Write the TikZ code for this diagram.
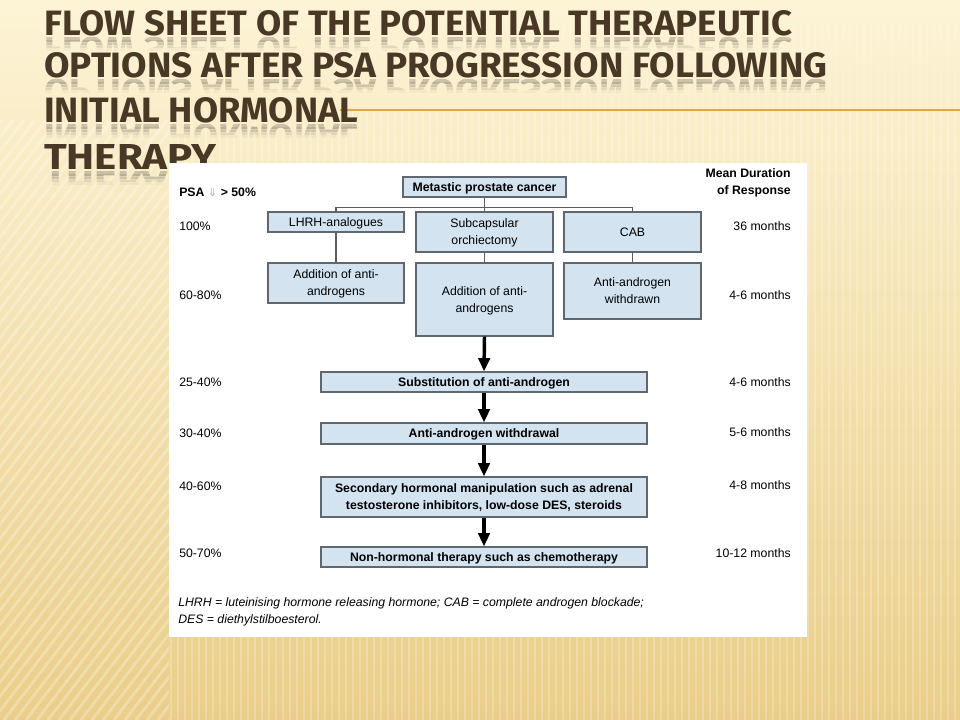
\documentclass[tikz,border=0pt]{standalone}
\usepackage{graphicx}
\usepackage{fontspec}
\setmainfont{Liberation Sans}
\newfontfamily\headfont{Fira Sans}
\newfontfamily\glyphfont{DejaVu Sans}
\usetikzlibrary{arrows.meta}

\definecolor{bgtop}{HTML}{FDF4D6}
\definecolor{bgbot}{HTML}{EACE88}
\definecolor{titlebrown}{HTML}{4A3826}
\definecolor{mirrorgray}{HTML}{8C8474}
\definecolor{rulegold}{HTML}{E3A646}
\definecolor{boxfill}{HTML}{D3E3F0}
\definecolor{boxline}{HTML}{5F676F}
\definecolor{linkgray}{HTML}{5C5C5C}
\definecolor{arrowgray}{HTML}{B4B4B4}

% one title line, stretched to a given width with a fixed cap height
\newcommand{\headline}[2]{\resizebox{#1}{18.75pt}{\headfont\bfseries #2}}

\tikzset{
  flowbox/.style={draw=boxline, fill=boxfill, line width=0.8pt, inner sep=0pt,
    font=\fontsize{9.2}{12.75}\selectfont, align=center, text depth=0pt},
  onerow/.style={text height=6.6pt, text depth=0pt},
  boldbox/.style={flowbox, font=\fontsize{9.2}{12.75}\selectfont\bfseries},
  link/.style={draw=linkgray, line width=0.8pt},
  flowarrow/.style={draw=black, line width=2.6pt,
    -{Triangle[length=10pt, width=8.5pt]}},
  rowlabel/.style={anchor=west, inner sep=0pt, font=\fontsize{9.2}{11}\selectfont},
  durlabel/.style={anchor=east, inner sep=0pt, font=\fontsize{9.2}{11}\selectfont, align=right},
  note/.style={anchor=west, inner sep=0pt, font=\fontsize{9.2}{11}\selectfont\itshape},
  headnode/.style={anchor=base west, inner sep=0pt, text=titlebrown},
  mirrornode/.style={anchor=base west, inner sep=0pt, text=mirrorgray, yscale=-1, transform shape},
  stripe/.style={white, line width=2.2pt, opacity=0.28},
}

% title line with its faded mirror image below the baseline
\newcommand{\titlerow}[4]{% name, baseline y, width, text
  \node[headnode] (#1) at (44,#2) {\headline{#3}{#4}};
  \foreach \off/\op in {2/0.42,5/0.28,8/0.16,11/0.07}{
    \begin{scope}
      \clip (40,#2+\off) rectangle (860,#2+\off+3.2);
      \node[mirrornode, opacity=\op] at (44,#2+2) {\headline{#3}{#4}};
    \end{scope}
  }
}

\begin{document}
\begin{tikzpicture}[x=0.75pt, y=-0.75pt]
\useasboundingbox (0,0) rectangle (960,720);

% ---------- slide background ----------
\shade[top color=bgtop, bottom color=bgbot] (0,0) rectangle (960,720);
\begin{scope}
  \clip (0,120) rectangle (169,720);
  \foreach \x in {-480,-469,...,180}
    \draw[stripe] (\x,720) -- (\x+460,120);
\end{scope}
\begin{scope}
  \clip (169,110) rectangle (960,720);
  \foreach \x in {171,178,...,960}
    \draw[stripe, opacity=0.22] (\x,110) -- (\x,720);
\end{scope}
\begin{scope}
  \clip (560,20) rectangle (960,110);
  \foreach \x in {563,570,...,960}
    \draw[stripe, opacity=0.14] (\x,20) -- (\x,110);
\end{scope}

% gold rule under the heading
\draw[rulegold, line width=1.6pt] (340,110) -- (960,110);

% ---------- heading ----------
\titlerow{t1}{36}{561pt}{FLOW SHEET OF THE POTENTIAL THERAPEUTIC}
\titlerow{t2}{78}{587.25pt}{OPTIONS AFTER PSA PROGRESSION FOLLOWING}
\titlerow{t3}{123}{235.5pt}{INITIAL HORMONAL}
\titlerow{t4}{170}{129pt}{THERAPY}

% ---------- figure panel ----------
\fill[white] (169,163) rectangle (807,637);

% top tier
\node[boldbox, onerow, minimum width=122.25pt, minimum height=15pt] (meta) at (484.5,187) {Metastic prostate cancer};
\node[flowbox, onerow, minimum width=102pt, minimum height=15pt] (lhrh) at (336,222) {LHRH-analogues};
\node[flowbox, minimum width=102.75pt, minimum height=30pt] (subcap) at (484.5,232) {Subcapsular\\orchiectomy};
\node[flowbox, onerow, minimum width=102.75pt, minimum height=30pt] (cab) at (632.5,232) {CAB};

% second tier
\node[flowbox, minimum width=102pt, minimum height=30pt] (addl) at (336,283) {Addition of anti-\\androgens};
\node[flowbox, minimum width=102.75pt, minimum height=54.75pt] (addc) at (484.5,299.5) {Addition of anti-\\androgens};
\node[flowbox, minimum width=102.75pt, minimum height=42pt] (aaw) at (632.5,291) {Anti-androgen\\withdrawn};

% sequential steps
\node[boldbox, onerow, minimum width=244.5pt, minimum height=15pt] (subst) at (484,382) {Substitution of anti-androgen};
\node[boldbox, onerow, minimum width=244.5pt, minimum height=15.75pt] (aawd) at (484,433.5) {Anti-androgen withdrawal};
\node[boldbox, minimum width=244.5pt, minimum height=30pt] (second) at (484,497) {Secondary hormonal manipulation such as adrenal\\testosterone inhibitors, low-dose DES, steroids};
\node[boldbox, onerow, minimum width=244.5pt, minimum height=15pt] (nonh) at (484,557) {Non-hormonal therapy such as chemotherapy};

% thin connectors of the tree
\draw[link] (meta.south) -- (subcap.north);
\draw[link] (lhrh.north) -- ++(0,-4) -| (cab.north);
\draw[link] (lhrh.south) -- (addl.north);
\draw[link] (subcap.south) -- (addc.north);
\draw[link] (cab.south) -- (aaw.north);

% heavy arrows down the sequence
\draw[flowarrow] (addc.south) -- (subst.north);
\draw[flowarrow] (subst.south) -- (aawd.north);
\draw[flowarrow] (aawd.south) -- (second.north);
\draw[flowarrow] (second.south) -- (nonh.north);

% PSA response column
\node[rowlabel, font=\fontsize{9.2}{11}\selectfont\bfseries] (psa) at (179,192)
  {PSA {\glyphfont\mdseries\color{arrowgray}\fontsize{8.5}{10}\selectfont ⇓} > 50\%};
\node[rowlabel] (r1) at (179,226) {100\%};
\node[rowlabel] (r2) at (179,295) {60-80\%};
\node[rowlabel] (r3) at (179,382) {25-40\%};
\node[rowlabel] (r4) at (179,433) {30-40\%};
\node[rowlabel] (r5) at (179,486) {40-60\%};
\node[rowlabel] (r6) at (179,553) {50-70\%};

% duration column
\node[durlabel, font=\fontsize{9.2}{12.75}\selectfont\bfseries] (dur) at (791,183) {Mean Duration\\of Response};
\node[durlabel] (d1) at (791,226) {36 months};
\node[durlabel] (d2) at (791,295) {4-6 months};
\node[durlabel] (d3) at (791,382) {4-6 months};
\node[durlabel] (d4) at (791,432) {5-6 months};
\node[durlabel] (d5) at (791,485) {4-8 months};
\node[durlabel] (d6) at (791,553) {10-12 months};

% abbreviations
\node[note] (n1) at (178,603) {LHRH = luteinising hormone releasing hormone; CAB = complete androgen blockade;};
\node[note] (n2) at (178,620) {DES = diethylstilboesterol.};
\end{tikzpicture}
\end{document}
